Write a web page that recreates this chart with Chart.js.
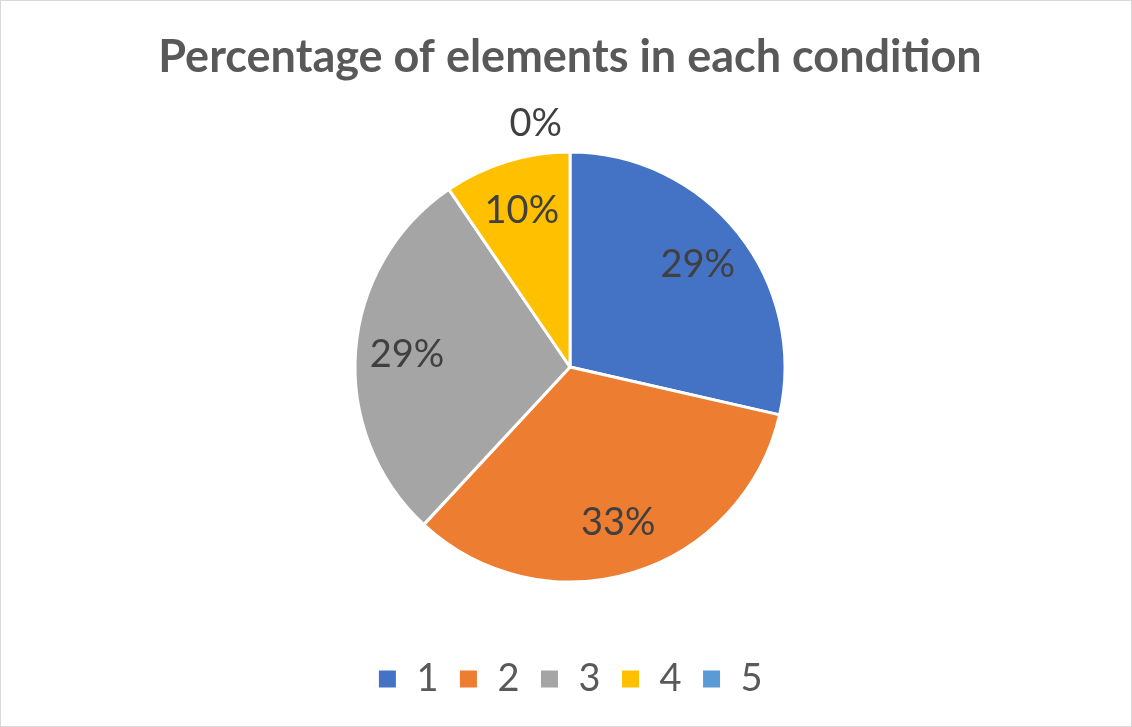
<!DOCTYPE html>
<html>
<head>
<meta charset="utf-8">
<script src="https://cdn.jsdelivr.net/npm/chart.js@4.4.0/dist/chart.umd.min.js"></script>
<style>
  html, body { margin: 0; padding: 0; background: #fff; }
  #wrap { width: 1132px; height: 727px; }
</style>
</head>
<body>
<div id="wrap"><canvas id="mycanvas" width="1132" height="727"></canvas></div>
<script>
var chartTitle = 'Percentage of elements in each condition';
var conditions = ['1', '2', '3', '4', '5'];
var counts = [6, 7, 6, 2, 0];
var sliceColors = ['#4472C4', '#ED7D31', '#A5A5A5', '#FFC000', '#5B9BD5'];

// white background + thin frame like the excel chart area
var frame = {
    id: 'frame',
    beforeDraw: function(chart) {
        var c = chart.ctx;
        c.save();
        c.fillStyle = '#ffffff';
        c.fillRect(0, 0, chart.width, chart.height);
        c.strokeStyle = '#d9d9d9';
        c.lineWidth = 1;
        c.strokeRect(0.5, 0.5, chart.width - 1, chart.height - 1);
        c.restore();
    }
};

// percentage labels inside the slices
var pctLabels = {
    id: 'pctLabels',
    afterDatasetsDraw: function(chart) {
        var c = chart.ctx;
        var meta = chart.getDatasetMeta(0);
        var data = chart.data.datasets[0].data;
        var total = data.reduce(function(a, b) { return a + b; }, 0);
        c.save();
        c.font = '38px Lato';
        c.fillStyle = '#404040';
        c.textBaseline = 'middle';
        meta.data.forEach(function(arc, i) {
            var p = arc.getProps(['x', 'y', 'startAngle', 'endAngle', 'outerRadius'], true);
            var mid = (p.startAngle + p.endAngle) / 2;
            var txt = Math.round(data[i] / total * 100) + '%';
            if (data[i] === 0) {
                var r0 = p.outerRadius + 28;
                c.textAlign = 'right';
                c.fillText(txt, p.x + Math.cos(mid) * r0 - 8, p.y + Math.sin(mid) * r0);
            } else {
                var r = p.outerRadius * 0.76;
                c.textAlign = 'center';
                c.fillText(txt, p.x + Math.cos(mid) * r, p.y + Math.sin(mid) * r);
            }
        });
        c.restore();
    }
};

var ctx = document.getElementById('mycanvas');

var pieChart = new Chart(ctx, {
    type: 'pie',
    data: {
        labels: conditions,
        datasets: [{
            data: counts,
            backgroundColor: sliceColors,
            borderColor: '#ffffff',
            borderWidth: 3,
            radius: 215
        }]
    },
    options: {
        responsive: false,
        animation: false,
        layout: { padding: { left: 8, right: 0, top: 0, bottom: 19 } },
        plugins: {
            title: {
                display: true,
                text: chartTitle,
                color: '#595959',
                font: { family: 'Lato', size: 45, weight: 'bold' },
                padding: { top: 30, bottom: 10 }
            },
            legend: {
                position: 'bottom',
                labels: {
                    color: '#595959',
                    font: { family: 'Lato', size: 38 },
                    boxWidth: 20,
                    boxHeight: 20,
                    padding: 20
                }
            },
            tooltip: { enabled: false }
        }
    },
    plugins: [frame, pctLabels]
});
</script>
</body>
</html>
